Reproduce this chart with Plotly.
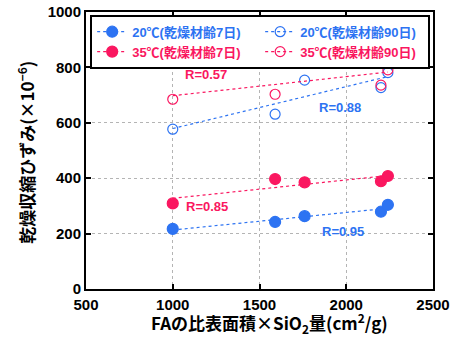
import numpy as np
import plotly.graph_objects as go

# Data
x_fa = [1000, 1590, 1760, 2200, 2240]
y20_7 = [217, 242, 263, 279, 304]
y35_7 = [309, 397, 385, 389, 408]
y20_90 = [577, 631, 754, 727, 781]
y35_90 = [685, 703, 835, 736, 791]

names = ["20℃(乾燥材齢7日)", "20℃(乾燥材齢90日)", "35℃(乾燥材齢7日)", "35℃(乾燥材齢90日)"]
r_labels = ["R=0.95", "R=0.88", "R=0.85", "R=0.57"]
r_pos = [(1984, 209), (1964, 657), (1200, 297), (1192, 773)]
x_title = "FAの比表面積×SiO<sub>2</sub>量(cm<sup>2</sup>/g)"
y_title = "乾燥収縮ひずみ(×10<sup>−6</sup>)"

BLUE = "#2d73f2"
RED = "#fa1760"

series = [
    (y20_7, BLUE, True),
    (y20_90, BLUE, False),
    (y35_7, RED, True),
    (y35_90, RED, False),
]

fig = go.Figure()
xs = np.array(x_fa, dtype=float)
for (ys, col, filled), name in zip(series, names):
    k, b = np.polyfit(xs, np.array(ys, dtype=float), 1)
    xl = np.array([xs.min(), xs.max()])
    fig.add_trace(go.Scatter(x=xl, y=k * xl + b, mode="lines",
                             line=dict(color=col, width=1.2, dash="dot"),
                             showlegend=False, hoverinfo="skip"))
    fig.add_trace(go.Scatter(
        x=x_fa, y=ys, mode="markers", showlegend=False,
        marker=dict(size=11 if filled else 10, symbol="circle" if filled else "circle-open",
                    color=col, line=dict(color=col, width=1.2))))
    fig.add_trace(go.Scatter(
        x=[None], y=[None], mode="lines+markers",
        name=f"<span style='color:{col}'>{name}</span>",
        line=dict(color=col, width=1.2, dash="dot"),
        marker=dict(size=11 if filled else 10, symbol="circle" if filled else "circle-open",
                    color=col, line=dict(color=col, width=1.2))))

for lab, (ax, ay), col in zip(r_labels, r_pos, [BLUE, BLUE, RED, RED]):
    fig.add_annotation(x=ax, y=ay, text=lab, showarrow=False,
                       font=dict(family="Liberation Sans, Arial", size=13, color=col, weight="bold"))

title_font = dict(family="Noto Sans CJK JP", size=17, color="black", weight="bold")
# axis titles placed as paper annotations (tight to tick labels, as in the reference)
fig.add_annotation(x=0.529, y=-0.064, xref="paper", yref="paper", xanchor="center", yanchor="top",
                   text=x_title, showarrow=False, font=title_font)
fig.add_annotation(x=-0.173, y=0.495, xref="paper", yref="paper", xanchor="center", yanchor="middle",
                   text=y_title, textangle=-90, showarrow=False, font=title_font)

axis_common = dict(showline=True, linecolor="black", linewidth=2, mirror="ticks",
                   ticks="inside", ticklen=5, tickwidth=1.5, tickcolor="black",
                   showgrid=True, gridcolor="#b4b4b4", griddash="dot", gridwidth=1,
                   zeroline=False, automargin=False,
                   tickfont=dict(family="Liberation Sans, Arial", size=15, color="black", weight="bold"))

fig.update_xaxes(range=[500, 2500], dtick=500, ticklabelstandoff=1, **axis_common)
fig.update_yaxes(range=[0, 1000], dtick=200, **axis_common)

fig.update_layout(
    width=461, height=337,
    margin=dict(l=86, r=28, t=12, b=48),
    paper_bgcolor="white", plot_bgcolor="white",
    legend=dict(orientation="h", x=0.012, y=0.99, xanchor="left", yanchor="top",
                bgcolor="white", bordercolor="black", borderwidth=2,
                entrywidth=123, entrywidthmode="pixels", itemwidth=30,
                tracegroupgap=0, traceorder="normal",
                font=dict(family="Liberation Sans, Noto Sans CJK JP", size=13, weight="bold")),
)

fig.write_html("out.html")
